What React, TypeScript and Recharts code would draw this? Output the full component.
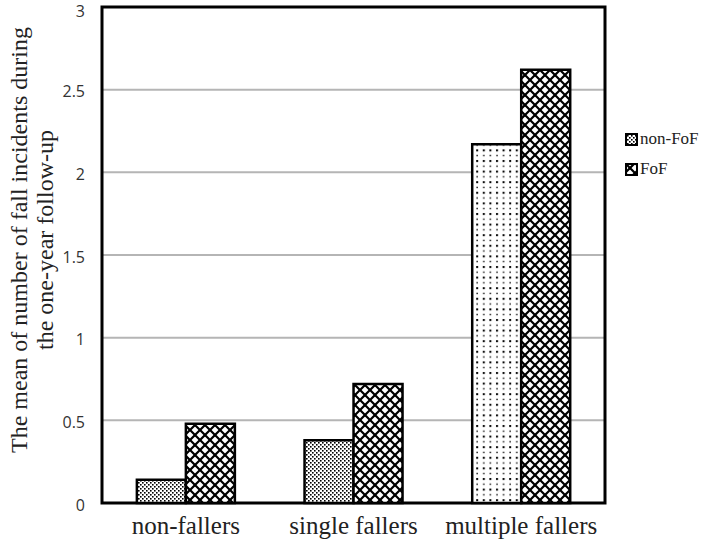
import React from 'react';
import { Bar, BarChart, CartesianGrid, Cell, ReferenceArea, XAxis, YAxis } from 'recharts';

const categories = ['non-fallers', 'single fallers', 'multiple fallers'];
const nonFoF = [0.14, 0.38, 2.17];
const fof = [0.48, 0.72, 2.62];
const yTicks = [0, 0.5, 1, 1.5, 2, 2.5, 3];

const data = categories.map((name, i) => ({ name, nonFoF: nonFoF[i], fof: fof[i] }));

// non-FoF fill differs per group in the original
const nonFoFFills = ['url(#dotsDense)', 'url(#dotsDense)', 'url(#dotsSparse)'];

const serif = 'Liberation Serif, Tinos, DejaVu Serif, serif';

const Patterns = () => (
  <svg width={0} height={0} style={{ position: 'absolute' }}>
    <defs>
      <pattern id="dotsDense" width={4} height={4} patternUnits="userSpaceOnUse">
        <rect width={4} height={4} fill="#fff" />
        <rect x={0} y={0} width={1.6} height={1.6} fill="#000" />
        <rect x={2} y={2} width={1.6} height={1.6} fill="#000" />
      </pattern>
      <pattern id="dotsSparse" width={6.6} height={10.6} patternUnits="userSpaceOnUse">
        <rect width={6.6} height={10.6} fill="#fff" />
        <rect x={1} y={1} width={2} height={2} fill="#000" />
        <rect x={1.3} y={6.5} width={1.4} height={1.4} fill="#000" />
      </pattern>
      <pattern id="cross" width={10} height={10} patternUnits="userSpaceOnUse">
        <rect width={10} height={10} fill="#fff" />
        <path d="M0,0 L10,10 M10,0 L0,10" stroke="#000" strokeWidth={2.2} />
        <path d="M-1,9 L1,11 M9,-1 L11,1 M-1,1 L1,-1 M9,11 L11,9" stroke="#000" strokeWidth={2.2} />
        <rect x={3.8} y={3.8} width={2.4} height={2.4} fill="#000" transform="rotate(45 5 5)" />
      </pattern>
    </defs>
  </svg>
);

const legendItems = [
  { label: 'non-FoF', fill: 'url(#dotsDense)' },
  { label: 'FoF', fill: 'url(#cross)' },
];

const ChartLegend = () => (
  <div style={{ position: 'absolute', left: 625, top: 124, fontFamily: serif, fontSize: 17, color: '#222' }}>
    {legendItems.map(item => (
      <div key={item.label} style={{ display: 'flex', alignItems: 'center', height: 30 }}>
        <svg width={13} height={13} style={{ marginRight: 2 }}>
          <rect x={1} y={1} width={11} height={11} fill={item.fill} stroke="#000" strokeWidth={2} />
        </svg>
        <span>{item.label}</span>
      </div>
    ))}
  </div>
);

export default function App() {
  return (
    <div style={{ position: 'absolute', left: 0, top: 0, width: 708, height: 548, background: '#fff' }}>
      <Patterns />
      <BarChart
        width={708}
        height={548}
        data={data}
        margin={{ top: 7, right: 103, left: 0, bottom: 0 }}
        barGap={0}
        barCategoryGap="20.8%"
      >
        <CartesianGrid horizontal vertical={false} stroke="#b5b5b5" strokeWidth={2} />
        <XAxis
          dataKey="name"
          height={45}
          interval={0}
          axisLine={false}
          tickLine={false}
          tickSize={0}
          tickMargin={13}
          tick={{ fontFamily: serif, fontSize: 25, fill: '#222' }}
        />
        <YAxis
          width={102}
          domain={[0, 3]}
          ticks={yTicks}
          axisLine={false}
          tickLine={false}
          tickSize={0}
          tickMargin={17}
          tick={{ fontFamily: 'Open Sans, sans-serif', fontSize: 16, fill: '#333', dy: 2 }}
        />
        <Bar dataKey="nonFoF" name="non-FoF" stroke="#000" strokeWidth={2.5} isAnimationActive={false}>
          {data.map((d, i) => (
            <Cell key={d.name} fill={nonFoFFills[i]} />
          ))}
        </Bar>
        <Bar dataKey="fof" name="FoF" fill="url(#cross)" stroke="#000" strokeWidth={2.5} isAnimationActive={false} />
        <ReferenceArea y1={0} y2={3} fill="none" stroke="#000" strokeWidth={3} />
      </BarChart>
      <ChartLegend />
      <svg width={708} height={548} style={{ position: 'absolute', left: 0, top: 0, pointerEvents: 'none' }}>
        <text
          transform="rotate(-90 19 240)"
          x={19}
          y={240}
          textAnchor="middle"
          dominantBaseline="central"
          fontFamily={serif}
          fontSize={24}
          fill="#222"
        >
          The mean of number of fall incidents during
        </text>
        <text
          transform="rotate(-90 45 240)"
          x={45}
          y={240}
          textAnchor="middle"
          dominantBaseline="central"
          fontFamily={serif}
          fontSize={24}
          fill="#222"
        >
          the one-year follow-up
        </text>
      </svg>
    </div>
  );
}
